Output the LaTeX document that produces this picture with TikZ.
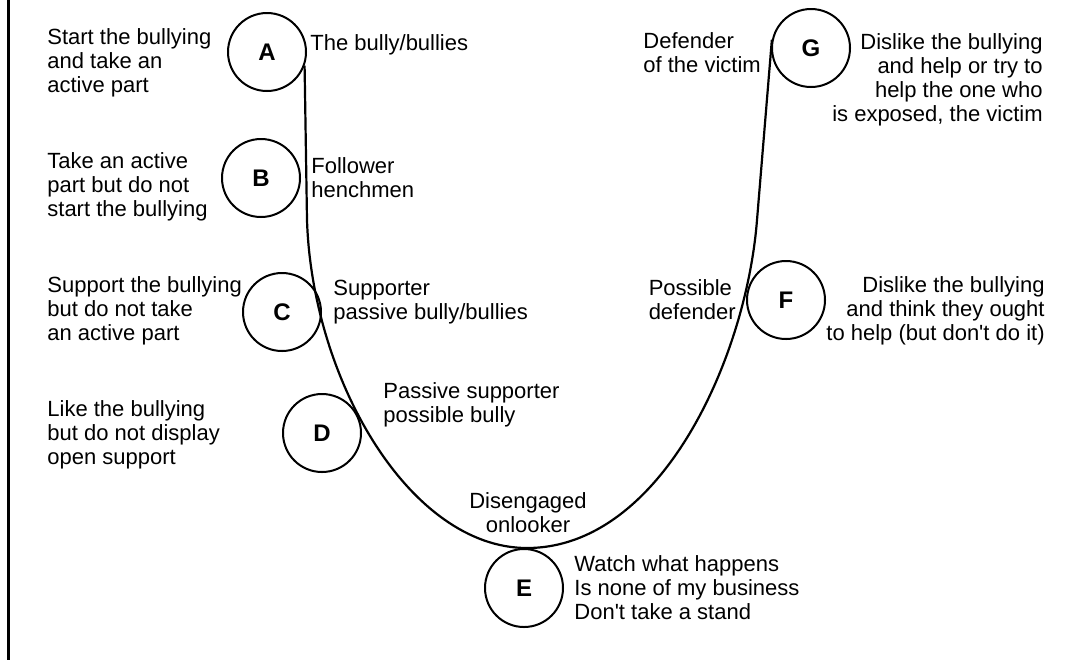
\documentclass[tikz,border=0pt]{standalone}
\usepackage{fontspec}
\setmainfont{Liberation Sans}
\usetikzlibrary{positioning}

\begin{document}
\begin{tikzpicture}[
  x=0.5pt, y=-0.5pt,
  node distance=5pt,
  role/.style={draw, circle, line width=1pt, minimum size=39pt, inner sep=0pt, font=\fontsize{12}{14}\selectfont\bfseries},
  desc/.style={inner sep=0pt, font=\fontsize{11}{12}\selectfont},
  curve/.style={line width=1.1pt}
]
\useasboundingbox (0,0) rectangle (1070,660);
\draw[line width=1.1pt] (8.5,0) -- (8.5,660);

\node[role] (A) at (267,52) {A};
\node[role] (B) at (261,178) {B};
\node[role] (C) at (282,312) {C};
\node[role] (D) at (322,433) {D};
\node[role] (E) at (524,588) {E};
\node[role] (F) at (786,300) {F};
\node[role] (G) at (811,48) {G};

\node[desc, anchor=west, align=left] (adesc) at (47,63) {Start the bullying\\and take an\\active part};
\node[desc, anchor=west, align=left] (bdesc) at (47,187) {Take an active\\part but do not\\start the bullying};
\node[desc, anchor=west, align=left] (cdesc) at (47,311) {Support the bullying\\but do not take\\an active part};
\node[desc, anchor=west, align=left] (ddesc) at (47,435) {Like the bullying\\but do not display\\open support};
\node[desc, right=of E, align=left] (edesc) {Watch what happens\\Is none of my business\\Don\textquotesingle t take a stand};
\node[desc, anchor=east, align=right] (fdesc) at (1045,311) {Dislike the bullying\\and think they ought\\to help (but don\textquotesingle t do it)};
\node[desc, anchor=east, align=right] (gdesc) at (1043,80) {Dislike the bullying\\and help or try to\\help the one who\\is exposed, the victim};

\node[desc, anchor=west] (alabel) at (310,45) {The bully/bullies};
\node[desc, right=of B, align=left] (blabel) {Follower\\henchmen};
\node[desc, anchor=west, align=left] (clabel) at (333,302) {Supporter\\passive bully/bullies};
\node[desc, anchor=west, align=left] (dlabel) at (383,405) {Passive supporter\\possible bully};
\node[desc, align=center] (elabel) at (528,513) {Disengaged\\onlooker};
\node[desc, left=of F, align=left] (flabel) {Possible\\defender};
\node[desc, anchor=west, align=left] (glabel) at (643,53) {Defender\\of the victim};

\coordinate (leftbend) at (307,220);
\coordinate (bottom) at (527,548);
\coordinate (rightbend) at (757,220);

\draw[curve] (A.-20) -- (leftbend)
  .. controls (312,380) and (410,548) .. (bottom)
  .. controls (660,548) and (746,360) .. (rightbend) -- (G.168);
\end{tikzpicture}
\end{document}
